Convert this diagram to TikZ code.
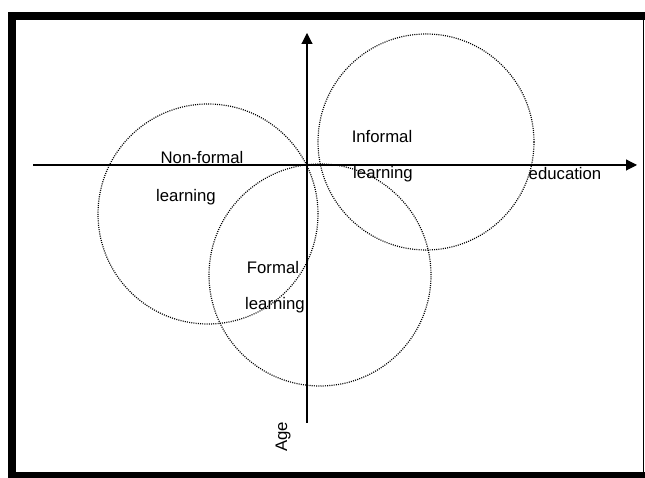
\documentclass[tikz,border=0pt]{standalone}
\usepackage{fontspec}
\setmainfont{Liberation Sans}
\usetikzlibrary{arrows.meta}
\begin{document}
\begin{tikzpicture}[x=1bp,y=1bp,
	zone/.style={circle,draw,line width=1.2bp,dash pattern=on 1bp off 1.2bp,inner sep=0pt,outer sep=0pt},
	lbl/.style={inner sep=0pt,font=\fontsize{16.8}{19}\selectfont},
	axis/.style={line width=1.1bp,-{Triangle[length=11bp,width=11bp]}}]
	\useasboundingbox (0,0) rectangle (645,478);
	% frame
	\fill (8,0) rectangle (16,466);
	\fill (8,458) rectangle (645,466);
	\fill (8,0) rectangle (645,6);
	\draw[line width=1bp] (643.5,0) -- (643.5,466);
	% axes
	\coordinate (west) at (33,313);
	\coordinate (east) at (637,313);
	\coordinate (south) at (307,55);
	\coordinate (north) at (307,445);
	\draw[axis] (west) to (east);
	\draw[axis] (south) to (north);
	% circles
	\node[zone,minimum size=216bp] (informal) at (426,336) {};
	\node[zone,minimum size=220bp] (nonformal) at (208,264) {};
	\node[zone,minimum size=222bp] (formal) at (320,203) {};
	% labels
	\node[lbl] (inf1) at (382,341) {Informal};
	\node[lbl] (inf2) at (383,304) {learning};
	\node[lbl] (non1) at (202,320) {Non-formal};
	\node[lbl] (non2) at (186,281) {learning};
	\node[lbl] (for1) at (273,210) {Formal};
	\node[lbl] (for2) at (275,173) {learning};
	\node[lbl] (edu) at (565,304) {education};
	\node[lbl,rotate=90] (age) at (283,41) {Age};
\end{tikzpicture}
\end{document}
